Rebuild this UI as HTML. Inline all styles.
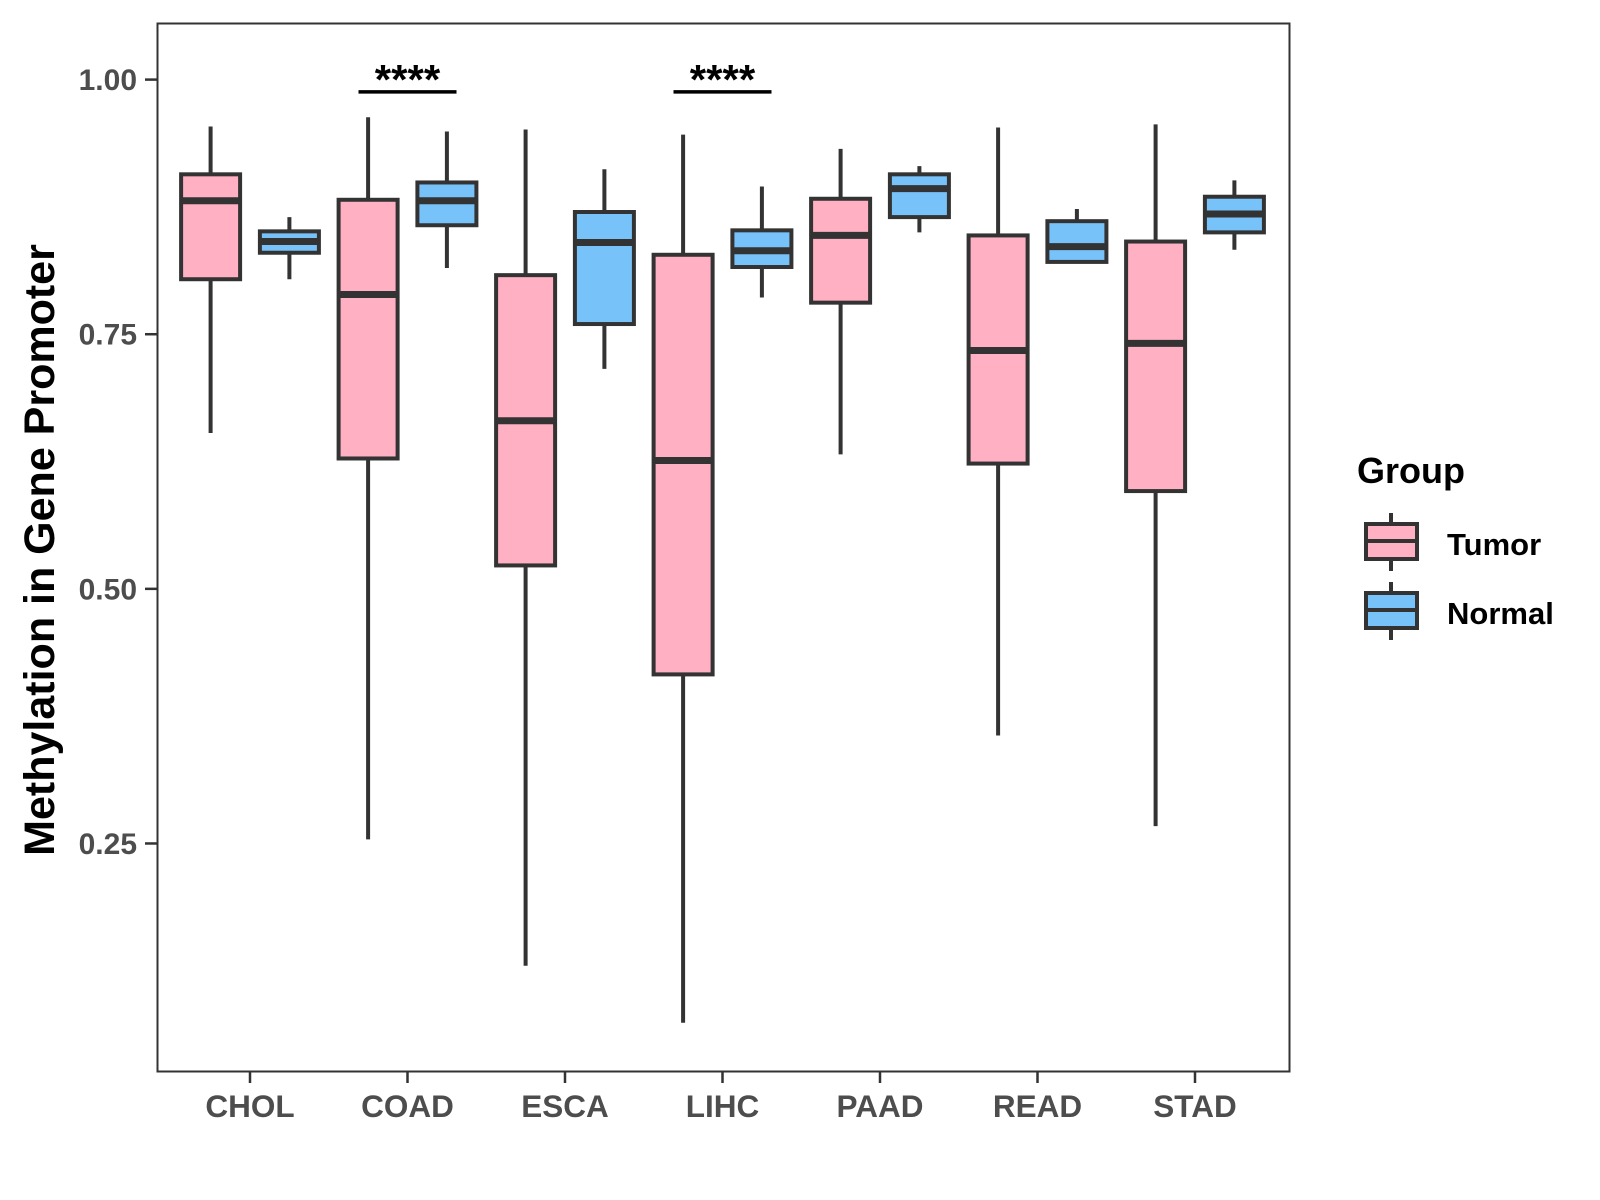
<!DOCTYPE html>
<html><head><meta charset="utf-8"><style>body{margin:0;background:#fff}svg{display:block;font-family:"Liberation Sans",Arial,sans-serif;font-weight:bold}</style></head>
<body>
<svg id="chart" width="1600" height="1200" viewBox="0 0 1600 1200" xmlns="http://www.w3.org/2000/svg">
<rect x="0" y="0" width="1600" height="1200" fill="#fff"/>
<g id="marks"></g>
<rect x="157.5" y="23.5" width="1132" height="1048" fill="none" stroke="#333" stroke-width="2"/>
<text x="54" y="550" font-size="43" text-anchor="middle" transform="rotate(-90 54 550)" fill="#000">Methylation in Gene Promoter</text>
<g>
<text x="1357" y="483" font-size="36" fill="#000">Group</text>
<g>
<line x1="1391" y1="513" x2="1391" y2="571" stroke="#333" stroke-width="4"/>
<rect x="1366" y="524" width="51" height="35" fill="#FFB0C3" stroke="#333" stroke-width="4"/>
<line x1="1366" y1="541" x2="1417" y2="541" stroke="#333" stroke-width="4"/>
<text x="1447" y="555" font-size="31" fill="#000">Tumor</text>
</g>
<g>
<line x1="1391" y1="582" x2="1391" y2="640" stroke="#333" stroke-width="4"/>
<rect x="1366" y="593" width="51" height="35" fill="#78C2FA" stroke="#333" stroke-width="4"/>
<line x1="1366" y1="610" x2="1417" y2="610" stroke="#333" stroke-width="4"/>
<text x="1447" y="624" font-size="31" fill="#000">Normal</text>
</g>
</g>
</svg>
<script>
const categories=["CHOL","COAD","ESCA","LIHC","PAAD","READ","STAD"];
const yTicks=[0.25,0.5,0.75,1.0];
const yTickLabels=["0.25","0.50","0.75","1.00"];
// [low, q1, median, q3, high]
const tumorStats=[[0.653,0.804,0.881,0.907,0.954],[0.254,0.628,0.789,0.882,0.963],[0.130,0.523,0.665,0.808,0.951],[0.074,0.416,0.626,0.828,0.946],[0.632,0.781,0.847,0.883,0.932],[0.356,0.623,0.734,0.847,0.953],[0.267,0.596,0.741,0.841,0.956]];
const normalStats=[[0.804,0.830,0.841,0.851,0.865],[0.815,0.857,0.881,0.899,0.949],[0.716,0.760,0.840,0.870,0.912],[0.786,0.816,0.832,0.852,0.895],[0.850,0.865,0.893,0.907,0.915],[0.820,0.821,0.836,0.861,0.873],[0.833,0.850,0.868,0.885,0.901]];
const sigCategories=["COAD","LIHC"];
const sigLabels=["****","****"];
const sigY=0.988;

const NS="http://www.w3.org/2000/svg";
const g=document.getElementById('marks');
function y(v){return 79.6+(1-v)*1018.5;}
function x(i){return 250+i*157.5;}
function mk(tag,attrs,parent){const e=document.createElementNS(NS,tag);for(const k in attrs)e.setAttribute(k,attrs[k]);(parent||g).appendChild(e);return e;}
yTicks.forEach((t,i)=>{
  const l=mk('line',{x1:145,x2:157,y1:y(t),y2:y(t),stroke:'#333','stroke-width':2.5});
  
  
  const tx=mk('text',{x:137,y:y(t)+10.5,'font-size':30,'text-anchor':'end',fill:'#4d4d4d'});
  tx.textContent=yTickLabels[i];
  
  
});
categories.forEach((c,i)=>{
  const l=mk('line',{x1:x(i),x2:x(i),y1:1071,y2:1083,stroke:'#333','stroke-width':2.5});
  
  
  const tx=mk('text',{x:x(i),y:1117,'font-size':31.5,'text-anchor':'middle',fill:'#4d4d4d'});
  tx.textContent=c;
  
  
});
function box(cx,s,fill,name){
  const grp=mk('g',{});
  
  
  const hw=29.5;
  mk('line',{x1:cx,x2:cx,y1:y(s[4]),y2:y(s[0]),stroke:'#333','stroke-width':4},grp);
  mk('rect',{x:cx-hw,y:y(s[3]),width:2*hw,height:y(s[1])-y(s[3]),fill:fill,stroke:'#333','stroke-width':4},grp);
  mk('line',{x1:cx-hw,x2:cx+hw,y1:y(s[2]),y2:y(s[2]),stroke:'#333','stroke-width':7},grp);
}
categories.forEach((c,i)=>{
  box(x(i)-39.4,tumorStats[i],'#FFB0C3','box-tumor-'+c.toLowerCase());
  box(x(i)+39.4,normalStats[i],'#78C2FA','box-normal-'+c.toLowerCase());
});
sigCategories.forEach((c,k)=>{
  const i=categories.indexOf(c);
  const l=mk('line',{x1:x(i)-49,x2:x(i)+49,y1:y(sigY),y2:y(sigY),stroke:'#000','stroke-width':3.5});
  
  
  const tx=mk('text',{x:x(i),y:y(sigY)+2,'font-size':42,'text-anchor':'middle',fill:'#000'});
  tx.textContent=sigLabels[k];
  
  
});
</script>
</body></html>
